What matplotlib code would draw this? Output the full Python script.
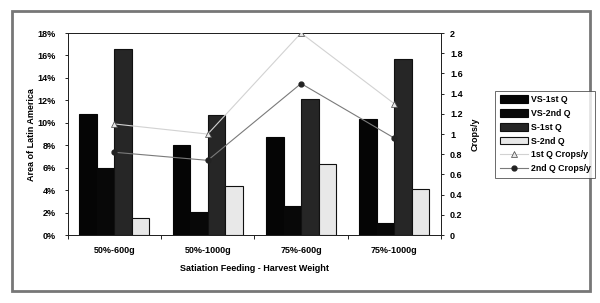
import numpy as np
import matplotlib.pyplot as plt
from matplotlib.patches import Rectangle
from matplotlib.ticker import FuncFormatter, FixedLocator

plt.rcParams["font.family"] = ["Liberation Sans", "DejaVu Sans"]
plt.rcParams["font.weight"] = "bold"

categories = ["50%-600g", "50%-1000g", "75%-600g", "75%-1000g"]
vs_1st_q = [10.8, 8.0, 8.7, 10.3]
vs_2nd_q = [6.0, 2.1, 2.6, 1.1]
s_1st_q = [16.6, 10.7, 12.1, 15.7]
s_2nd_q = [1.5, 4.4, 6.3, 4.1]
crops_1st_q = [1.1, 1.0, 2.0, 1.3]
crops_2nd_q = [0.82, 0.74, 1.5, 0.96]

fig = plt.figure(figsize=(6, 3.03), dpi=100)
ax = fig.add_axes([0.113, 0.224, 0.622, 0.667])
ax2 = ax.twinx()

x = np.arange(len(categories))
w = 0.1875
bar_series = [
    (vs_1st_q, "VS-1st Q", "#050505", "#050505"),
    (vs_2nd_q, "VS-2nd Q", "#080808", "#080808"),
    (s_1st_q, "S-1st Q", "#262626", "#111111"),
    (s_2nd_q, "S-2nd Q", "#e8e8e8", "#111111"),
]
handles = []
for i, (vals, name, fc, ec) in enumerate(bar_series):
    b = ax.bar(x + (i - 1.5) * w, vals, width=w, color=fc, edgecolor=ec,
               linewidth=0.8, label=name, zorder=2)
    handles.append(b)

l1, = ax2.plot(x, crops_1st_q, color="#d2d2d2", lw=0.8, marker="^",
               markersize=4, markerfacecolor="#e6e6e6", markeredgecolor="#444444",
               markeredgewidth=0.5, label="1st Q Crops/y", zorder=3)
l2, = ax2.plot(x, crops_2nd_q, color="#7a7a7a", lw=0.8, marker="o",
               markersize=3.5, markerfacecolor="#222222", markeredgecolor="#222222",
               label="2nd Q Crops/y", zorder=3)
handles += [l1, l2]

ax.set_xlim(-0.5, len(categories) - 0.5)
ax.set_ylim(0, 18)
ax.yaxis.set_major_locator(FixedLocator(np.arange(0, 19, 2)))
ax.yaxis.set_major_formatter(FuncFormatter(lambda v, p: f"{int(v)}%"))
ax2.set_ylim(0, 2)
ax2.yaxis.set_major_locator(FixedLocator(np.arange(0, 2.01, 0.2)))
ax2.yaxis.set_major_formatter(FuncFormatter(lambda v, p: f"{v:g}"))

ax.set_xticks(x)
ax.set_xticklabels(categories)
ax.xaxis.set_minor_locator(FixedLocator(np.arange(-0.5, len(categories), 1)))
ax.tick_params(axis="x", which="major", length=0, labelsize=6.5, pad=8)
ax.tick_params(axis="x", which="minor", length=3, width=0.6)
ax.tick_params(axis="y", length=2.5, width=0.6, labelsize=6.5, pad=6)
ax2.tick_params(axis="y", length=2.5, width=0.6, labelsize=6.5, pad=4)

for a in (ax, ax2):
    for s in a.spines.values():
        s.set_linewidth(0.7)
        s.set_color("#222222")

ax.set_ylabel("Area of Latin America", fontsize=6.5, fontweight="bold", labelpad=1)
ax2.set_ylabel("Crops/y", fontsize=6.5, fontweight="bold", labelpad=6)
ax.set_xlabel("Satiation Feeding - Harvest Weight", fontsize=6.5,
              fontweight="bold", labelpad=6)

leg = fig.legend(handles=handles, loc="upper left", bbox_to_anchor=(0.818, 0.715),
                 fontsize=6.3, frameon=True, fancybox=False, handlelength=3.2,
                 handleheight=1.0, labelspacing=0.55, borderpad=0.5,
                 handletextpad=0.4, edgecolor="#444444")
leg.get_frame().set_linewidth(0.7)

fig.patches.append(Rectangle((0.02, 0.04), 0.963, 0.924, transform=fig.transFigure,
                             fill=False, edgecolor="#777777", linewidth=2))

fig.savefig("out.png", dpi=100)
